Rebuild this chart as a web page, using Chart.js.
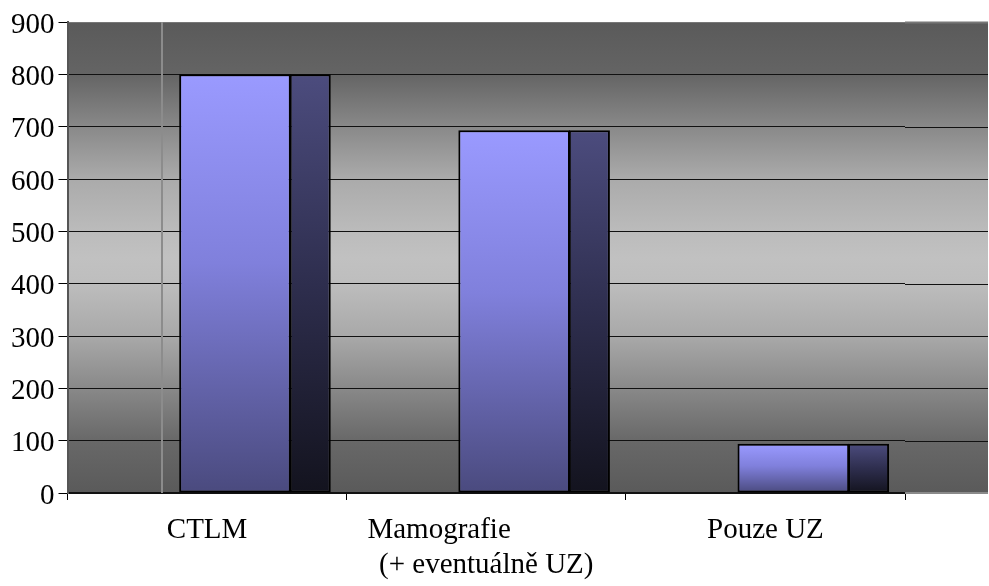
<!DOCTYPE html>
<html>
<head>
<meta charset="utf-8">
<script src="https://cdn.jsdelivr.net/npm/chart.js@4/dist/chart.umd.min.js"></script>
<style>
  html, body { margin: 0; padding: 0; background: #fff; }
  #wrap { width: 989px; height: 586px; }
</style>
</head>
<body>
<div id="wrap"><canvas id="chart" width="989" height="586"></canvas></div>
<script>
// Počet vyšetření podle metody
const categories = [
  'CTLM',
  ['Mamografie' + '\u00a0'.repeat(13), '(+ eventuálně UZ)'],
  'Pouze UZ'
];
const counts = [800, 693, 94];

const yMin = 0;
const yMax = 900;
const yStep = 100;

// Bar geometry as fractions of one category slot (front face, then depth face)
const frontStart = 0.40, frontEnd = 0.80, sideStart = 0.796, sideEnd = 0.943;

const FONT = { family: "'Liberation Serif', 'Times New Roman', serif", size: 29 };

function barGradient(stops) {
  return (c) => {
    const chart = c.chart;
    if (!chart.chartArea || c.raw === undefined) return stops[0][1];
    const ys = chart.scales.y;
    const top = ys.getPixelForValue(c.raw);
    const bottom = ys.getPixelForValue(0);
    const g = chart.ctx.createLinearGradient(0, top, 0, bottom);
    stops.forEach(([o, col]) => g.addColorStop(o, col));
    return g;
  };
}

// Plot backdrop: grey wall gradient, which reaches past the last category,
// plus the depth edge line and grid extensions on that part.
const wall = {
  id: 'wall',
  beforeDraw(chart) {
    const { ctx, chartArea: a } = chart;
    const right = chart.width - 1;
    const g = ctx.createLinearGradient(0, a.top, 0, a.bottom);
    [[0, '#5a5a5a'], [0.11, '#646464'], [0.22, '#888888'], [0.33, '#aaaaaa'],
     [0.45, '#bcbcbc'], [0.5, '#c1c1c1'], [0.55, '#bebebe'], [0.67, '#a8a8a8'],
     [0.78, '#888888'], [0.89, '#686868'], [1, '#5a5a5a']]
      .forEach(([o, c]) => g.addColorStop(o, c));
    ctx.save();
    ctx.fillStyle = g;
    ctx.fillRect(a.left, a.top, right - a.left, a.bottom - a.top);
    ctx.restore();
  },
  beforeDatasetsDraw(chart) {
    const { ctx, chartArea: a, scales } = chart;
    const right = chart.width - 1;
    ctx.save();
    // grid continuation on the right
    for (let v = yMin + yStep; v <= yMax; v += yStep) {
      const y = Math.round(scales.y.getPixelForValue(v)) + 0.5;
      ctx.strokeStyle = v === yMax ? '#777777' : '#111111';
      ctx.lineWidth = v === yMax ? 2 : 1;
      ctx.beginPath(); ctx.moveTo(a.right, y); ctx.lineTo(right, y); ctx.stroke();
    }
    ctx.strokeStyle = '#8a8a8a';
    ctx.lineWidth = 2;
    ctx.beginPath(); ctx.moveTo(a.right, a.bottom); ctx.lineTo(right, a.bottom); ctx.stroke();
    // depth edge of the side wall
    const slot = scales.x.width / categories.length;
    const xEdge = Math.round(a.left + slot * 0.34);
    ctx.strokeStyle = '#8c8c8c';
    ctx.lineWidth = 2;
    ctx.beginPath(); ctx.moveTo(xEdge, a.top); ctx.lineTo(xEdge, a.bottom); ctx.stroke();
    ctx.restore();
  },
  beforeDatasetDraw(chart, args) {
    const slot = chart.scales.x.width / categories.length;
    const center = args.index === 0 ? (frontStart + frontEnd) / 2 : (sideStart + sideEnd) / 2;
    chart.ctx.save();
    chart.ctx.translate(slot * (center - 0.5), 0);
  },
  afterDatasetDraw(chart) {
    chart.ctx.restore();
  }
};

new Chart(document.getElementById('chart'), {
  type: 'bar',
  data: {
    labels: categories,
    datasets: [
      {
        data: counts,
        grouped: false,
        categoryPercentage: 1,
        barPercentage: frontEnd - frontStart,
        backgroundColor: barGradient([[0, '#9a9aff'], [0.45, '#8080dc'], [1, '#4a4a7e']]),
        borderColor: '#000000',
        borderWidth: 2,
        borderSkipped: false
      },
      {
        data: counts,
        grouped: false,
        categoryPercentage: 1,
        barPercentage: sideEnd - sideStart,
        backgroundColor: barGradient([[0, '#4c4c7e'], [0.5, '#2e2e4e'], [1, '#13131e']]),
        borderColor: '#000000',
        borderWidth: 2,
        borderSkipped: false
      }
    ]
  },
  options: {
    responsive: false,
    animation: false,
    devicePixelRatio: 1,
    layout: { padding: { left: 7, right: 84, top: 22, bottom: 0 } },
    plugins: { legend: { display: false }, tooltip: { enabled: false } },
    scales: {
      x: {
        offset: true,
        afterFit: (scale) => { scale.height = 93; },
        grid: { offset: true, drawOnChartArea: false, color: '#000000', tickLength: 7, lineWidth: 1 },
        border: { color: '#111111', width: 2 },
        ticks: { color: '#000000', font: FONT, padding: 13, maxRotation: 0, autoSkip: false }
      },
      y: {
        min: yMin,
        max: yMax,
        grid: {
          color: (c) => (c.tick && c.tick.value === yMax ? '#777777' : '#111111'),
          tickColor: '#000000',
          tickLength: 9,
          lineWidth: 1
        },
        border: { color: '#555555', width: 2 },
        ticks: { stepSize: yStep, color: '#000000', font: FONT, padding: 4, labelOffset: 3 }
      }
    }
  },
  plugins: [wall]
});
</script>
</body>
</html>
